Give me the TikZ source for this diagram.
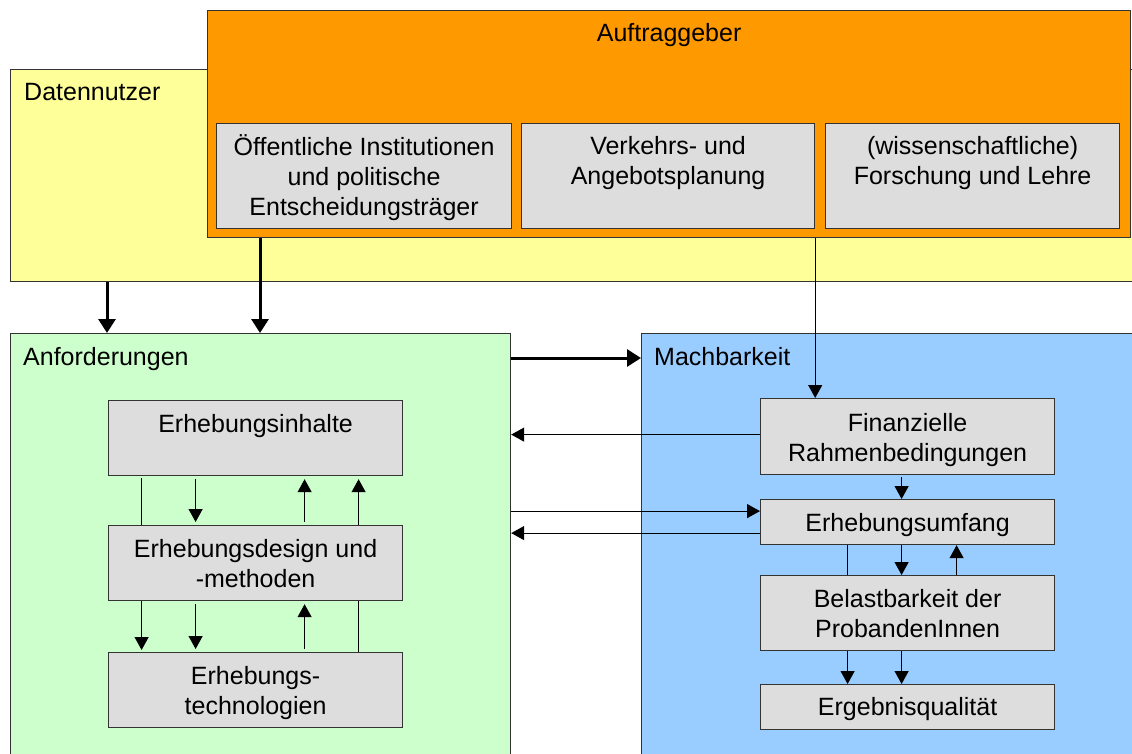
\documentclass[tikz,border=0pt]{standalone}
\usepackage{fontspec}
\setmainfont{Liberation Sans}
\usetikzlibrary{arrows.meta}
\definecolor{cyel}{HTML}{FFFF99}
\definecolor{corange}{HTML}{FF9900}
\definecolor{cgreen}{HTML}{CCFFCC}
\definecolor{cblue}{HTML}{99CCFF}
\definecolor{cgrey}{HTML}{DDDDDD}
\definecolor{cbord}{HTML}{333333}
\begin{document}
\begin{tikzpicture}[x=1pt,y=-1pt,
  frame/.style={draw=cbord, line width=1.2pt, anchor=north west, inner sep=0pt},
  gbox/.style={frame, fill=cgrey},
  txt/.style={font=\fontsize{25}{30}\selectfont, align=center, inner sep=0pt, anchor=base},
  ttl/.style={font=\fontsize{25}{30}\selectfont, inner sep=0pt, anchor=base west},
  conn/.style={line width=1.2pt, draw=black},
  arr/.style={conn, -{Triangle[width=14pt,length=13pt]}},
  garr/.style={arr, shorten <=3pt, shorten >=3pt},
  gline/.style={conn, shorten <=2pt},
  bigarr/.style={line width=3pt, draw=black, -{Triangle[width=17pt,length=14pt]}}
]
\useasboundingbox (0,0) rectangle (1132,754);
\clip (0,0) rectangle (1132,754);
\fill[white] (0,0) rectangle (1132,754);

% Datennutzer
\node[frame, fill=cyel, minimum width=1130pt, minimum height=212pt] (yel) at (10,69) {};
\node[ttl] (tyel) at ([xshift=14pt,yshift=-32pt]yel.north west) {Datennutzer};

% Auftraggeber
\node[frame, fill=corange, minimum width=923pt, minimum height=227pt] (auf) at (207,10) {};
\node[txt] (tauf) at ([yshift=-32pt]auf.north) {Auftraggeber};
\node[gbox, minimum width=295pt, minimum height=105pt] (a1) at (216,123) {};
\node[txt] (ta1) at ([yshift=-92pt]a1.north) {Öffentliche Institutionen\\und politische\\Entscheidungsträger};
\node[gbox, minimum width=293pt, minimum height=105pt] (a2) at (521,123) {};
\node[txt] (ta2) at ([yshift=-62pt]a2.north) {Verkehrs- und\\Angebotsplanung};
\node[gbox, minimum width=294pt, minimum height=105pt] (a3) at (825,123) {};
\node[txt] (ta3) at ([yshift=-62pt]a3.north) {(wissenschaftliche)\\Forschung und Lehre};

% Anforderungen
\node[frame, fill=cgreen, minimum width=500pt, minimum height=440pt] (gr) at (10,333) {};
\node[ttl] (tgr) at ([xshift=13pt,yshift=-32pt]gr.north west) {Anforderungen};
\node[gbox, minimum width=294pt, minimum height=75pt] (e1) at (108,400) {};
\node[txt] (te1) at ([yshift=-32pt]e1.north) {Erhebungsinhalte};
\node[gbox, minimum width=294pt, minimum height=75pt] (e2) at (108,525) {};
\node[txt] (te2) at ([yshift=-62pt]e2.north) {Erhebungsdesign und\\-methoden};
\node[gbox, minimum width=294pt, minimum height=75pt] (e3) at (108,652) {};
\node[txt] (te3) at ([yshift=-62pt]e3.north) {Erhebungs-\\technologien};

% Machbarkeit
\node[frame, fill=cblue, minimum width=500pt, minimum height=440pt] (bl) at (641,333) {};
\node[ttl] (tbl) at ([xshift=13pt,yshift=-32pt]bl.north west) {Machbarkeit};
\node[gbox, minimum width=294pt, minimum height=76pt] (f1) at (760,398) {};
\node[txt] (tf1) at ([yshift=-63pt]f1.north) {Finanzielle\\Rahmenbedingungen};
\node[gbox, minimum width=294pt, minimum height=45pt] (f2) at (760,499) {};
\node[txt] (tf2) at ([yshift=-32pt]f2.north) {Erhebungsumfang};
\node[gbox, minimum width=294pt, minimum height=75pt] (f3) at (760,575) {};
\node[txt] (tf3) at ([yshift=-62pt]f3.north) {Belastbarkeit der\\ProbandenInnen};
\node[gbox, minimum width=294pt, minimum height=45pt] (f4) at (760,684) {};
\node[txt] (tf4) at ([yshift=-31pt]f4.north) {Ergebnisqualität};

% big connectors
\draw[bigarr] ([xshift=97pt]yel.south west) -- ([xshift=97pt]gr.north west);
\draw[bigarr] ([xshift=53pt]auf.south west) -- ([xshift=250pt]gr.north west);
\draw[bigarr] ([yshift=-25pt]gr.north east) -- ([yshift=-25pt]bl.north west);

% thin connectors between areas
\draw[arr] (a2.south east |- auf.south) -- (a2.south east |- f1.north);
\draw[arr] ([yshift=2pt]f1.west) -- ([yshift=2pt]f1.west -| gr.east);
\draw[arr] ([yshift=11pt]f2.west -| gr.east) -- ([yshift=11pt]f2.west);
\draw[arr] ([yshift=-11pt]f2.west) -- ([yshift=-11pt]f2.west -| gr.east);

% Anforderungen internal
\draw[gline] ([xshift=-114pt]e1.south) -- ([xshift=-114pt]e2.north);
\draw[garr] ([xshift=-60pt]e1.south) -- ([xshift=-60pt]e2.north);
\draw[garr] ([xshift=49pt]e2.north) -- ([xshift=49pt]e1.south);
\draw[arr, shorten >=3pt] ([xshift=103pt]e2.north) -- ([xshift=103pt]e1.south);
\draw[arr, shorten >=2pt] ([xshift=-114pt]e2.south) -- ([xshift=-114pt]e3.north);
\draw[garr] ([xshift=-60pt]e2.south) -- ([xshift=-60pt]e3.north);
\draw[garr] ([xshift=49pt]e3.north) -- ([xshift=49pt]e2.south);
\draw[conn] ([xshift=103pt]e2.south) -- ([xshift=103pt]e3.north);

% Machbarkeit internal
\draw[arr, shorten <=2pt] ([xshift=-6pt]f1.south) -- ([xshift=-6pt]f2.north);
\draw[conn] ([xshift=-60pt]f2.south) -- ([xshift=-60pt]f3.north);
\draw[arr] ([xshift=-6pt]f2.south) -- ([xshift=-6pt]f3.north);
\draw[arr] ([xshift=49pt]f3.north) -- ([xshift=49pt]f2.south);
\draw[arr] ([xshift=-60pt]f3.south) -- ([xshift=-60pt]f4.north);
\draw[arr] ([xshift=-6pt]f3.south) -- ([xshift=-6pt]f4.north);
\end{tikzpicture}
\end{document}
